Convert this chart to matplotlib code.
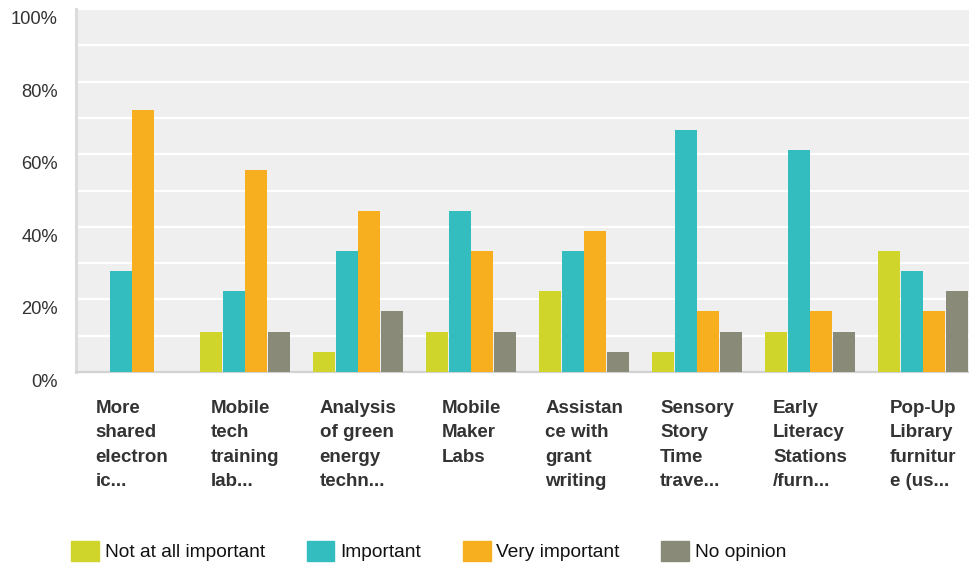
import matplotlib
matplotlib.use("Agg")
import matplotlib.pyplot as plt
import numpy as np
from matplotlib.transforms import ScaledTranslation
from matplotlib.patches import Patch

plt.rcParams['font.family'] = ['Liberation Sans', 'DejaVu Sans']

categories = [
    "More\nshared\nelectron\nic...",
    "Mobile\ntech\ntraining\nlab...",
    "Analysis\nof green\nenergy\ntechn...",
    "Mobile\nMaker\nLabs",
    "Assistan\nce with\ngrant\nwriting",
    "Sensory\nStory\nTime\ntrave...",
    "Early\nLiteracy\nStations\n/furn...",
    "Pop-Up\nLibrary\nfurnitur\ne (us...",
]
series_names = ["Not at all important", "Important", "Very important", "No opinion"]
not_at_all = [0.00, 11.11, 5.56, 11.11, 22.22, 5.56, 11.11, 33.33]
important = [27.78, 22.22, 33.33, 44.44, 33.33, 66.67, 61.11, 27.78]
very_important = [72.22, 55.56, 44.44, 33.33, 38.89, 16.67, 16.67, 16.67]
no_opinion = [0.00, 11.11, 16.67, 11.11, 5.56, 11.11, 11.11, 22.22]
colors = ["#CFD52B", "#33BDBF", "#F7AE1F", "#8A8A78"]
y_ticks = [0, 20, 40, 60, 80, 100]
y_tick_labels = ["0%", "20%", "40%", "60%", "80%", "100%"]

W, H = 969, 565
fig = plt.figure(figsize=(W / 100, H / 100), dpi=100)
ax = fig.add_axes([76 / W, 193 / H, 893 / W, 363 / H])
ax.set_facecolor("#EFEFEF")

x = np.arange(len(categories))
bw = 0.2
all_series = [not_at_all, important, very_important, no_opinion]
for k, (vals, c) in enumerate(zip(all_series, colors)):
    ax.bar(x + (k - 1.5) * bw, vals, width=bw * 0.96, color=c, linewidth=0,
           zorder=3, label=series_names[k])

ax.set_xlim(-0.4956, 7.407)
ax.set_ylim(0, 100)
ax.set_yticks(y_ticks)
ax.set_yticklabels(y_tick_labels)
ax.set_yticks(np.arange(10, 100, 10), minor=True)
ax.grid(True, which="both", axis="y", color="white", linewidth=1.6, zorder=1)
ax.set_axisbelow(True)

ax.set_xticks(x)
ax.set_xticklabels(categories, fontsize=13.5, fontweight="bold", color="#333333",
                   ha="center", multialignment="left", linespacing=1.57)
ax.tick_params(axis="x", length=0, pad=20)
ax.tick_params(axis="y", which="both", length=0, pad=13, labelsize=13.2,
               labelcolor="#333333")
off = ScaledTranslation(0, -8.5 / 100, fig.dpi_scale_trans)
for lab in ax.get_yticklabels():
    lab.set_transform(lab.get_transform() + off)

for s in ["top", "right"]:
    ax.spines[s].set_visible(False)
ax.spines["left"].set_color("#DCDCDC")
ax.spines["left"].set_linewidth(2.2)
ax.spines["bottom"].set_color("#D2D2D2")
ax.spines["bottom"].set_linewidth(1.6)

handles = [Patch(facecolor=c, edgecolor=c, label=n) for c, n in zip(colors, series_names)]
leg = fig.legend(handles=handles, loc="center left", bbox_to_anchor=(54 / W, 14 / H),
                 ncol=4, frameon=False, fontsize=13.8, handlelength=1.45,
                 handleheight=1.3, handletextpad=0.3, columnspacing=2.18)
for t in leg.get_texts():
    t.set_color("#111111")

fig.savefig("out.png", dpi=100)
